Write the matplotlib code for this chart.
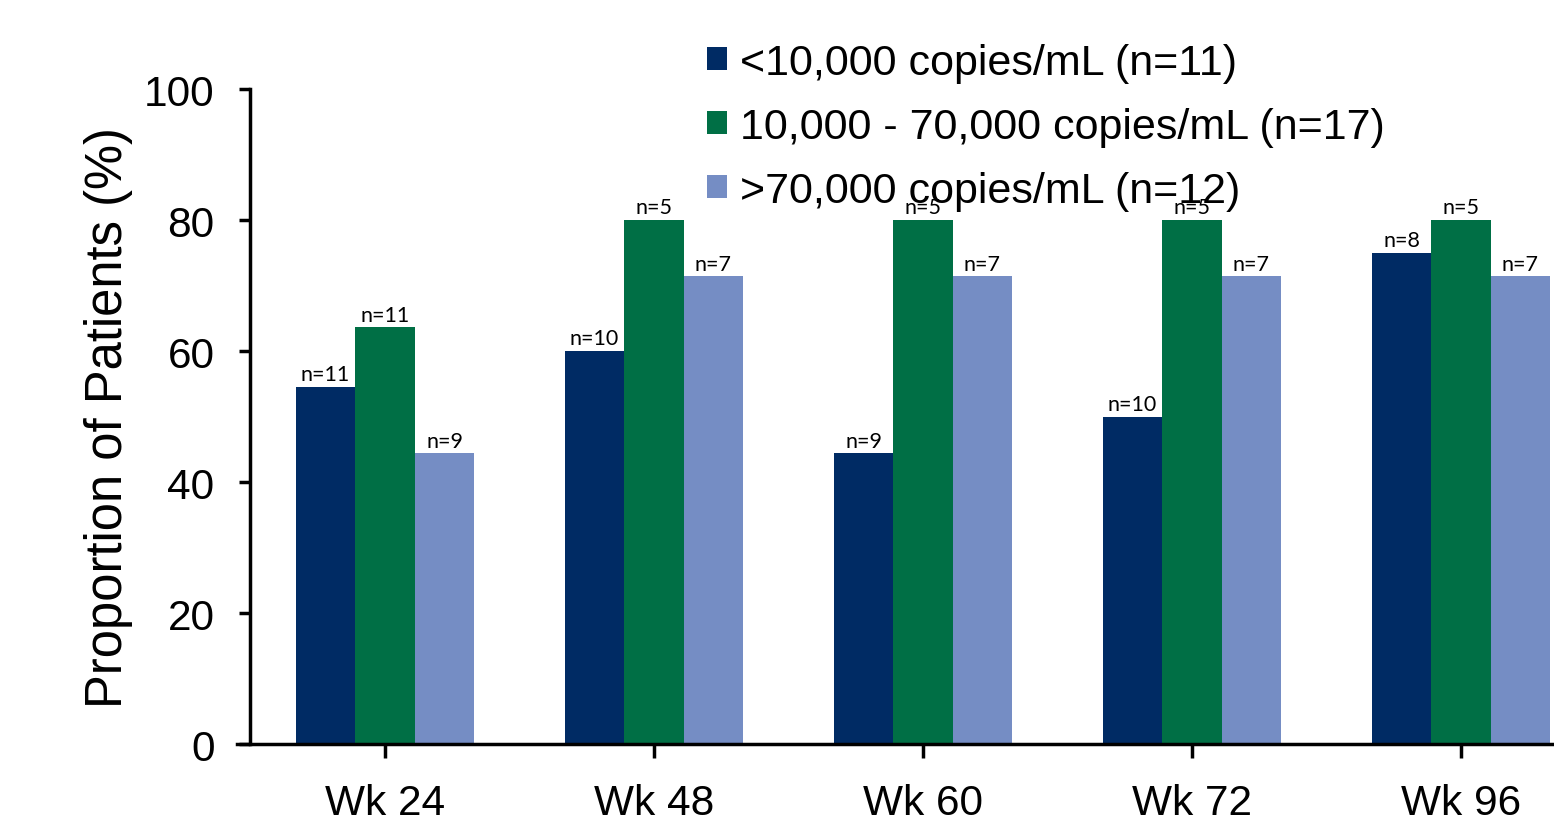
import numpy as np
import matplotlib.pyplot as plt

# Datos por semana y carga viral basal
weeks = ["Wk 24", "Wk 48", "Wk 60", "Wk 72", "Wk 96"]
series_names = ["<10,000 copies/mL (n=11)",
                "10,000 - 70,000 copies/mL (n=17)",
                ">70,000 copies/mL (n=12)"]
low_vals = [54.5, 60.0, 44.4, 50.0, 75.0]
mid_vals = [63.6, 80.0, 80.0, 80.0, 80.0]
high_vals = [44.4, 71.4, 71.4, 71.4, 71.4]
low_n = ["n=11", "n=10", "n=9", "n=10", "n=8"]
mid_n = ["n=11", "n=5", "n=5", "n=5", "n=5"]
high_n = ["n=9", "n=7", "n=7", "n=7", "n=7"]
colors = ["#002B64", "#006F45", "#758DC4"]

plt.rcParams["font.family"] = ["Liberation Sans", "DejaVu Sans"]

fig = plt.figure(figsize=(15.54, 8.29), dpi=100)
ax = fig.add_axes([0.1609, 0.1013, 0.8391, 0.7901])

x = np.arange(len(weeks))
w = 0.221
groups = [(low_vals, low_n), (mid_vals, mid_n), (high_vals, high_n)]
for i, ((vals, ns), name, c) in enumerate(zip(groups, series_names, colors)):
    pos = x + (i - 1) * w
    bars = ax.bar(pos, vals, width=w, color=c, label=name, zorder=2)
    for b, lab in zip(bars, ns):
        ax.text(b.get_x() + b.get_width() / 2, b.get_height() + 0.4, lab,
                ha="center", va="bottom", fontsize=15.5, family="Lato", zorder=3)

ax.set_xlim(-0.502, 4.346)
ax.set_ylim(0, 100)
ax.set_yticks([0, 20, 40, 60, 80, 100])
ax.set_xticks(x)
ax.set_xticklabels(weeks)
ax.tick_params(axis="both", labelsize=30.5, width=2.5, direction="out")
ax.tick_params(axis="y", length=8, pad=17.5)
ax.tick_params(axis="x", length=10, pad=18)
ax.set_ylabel("Proportion of Patients (%)", fontsize=36.5, labelpad=8)

for s in ["top", "right"]:
    ax.spines[s].set_visible(False)
for s in ["left", "bottom"]:
    ax.spines[s].set_linewidth(2.5)
ax.spines["bottom"].set_bounds(-0.55, 4.4)

leg = fig.legend(loc="upper left", bbox_to_anchor=(0.444, 0.968), frameon=False,
                 fontsize=31, handlelength=0.46, handleheight=0.46,
                 handletextpad=0.3, labelspacing=0.56, borderaxespad=0)
leg.set_zorder(5)

fig.savefig("out.png", dpi=100)
